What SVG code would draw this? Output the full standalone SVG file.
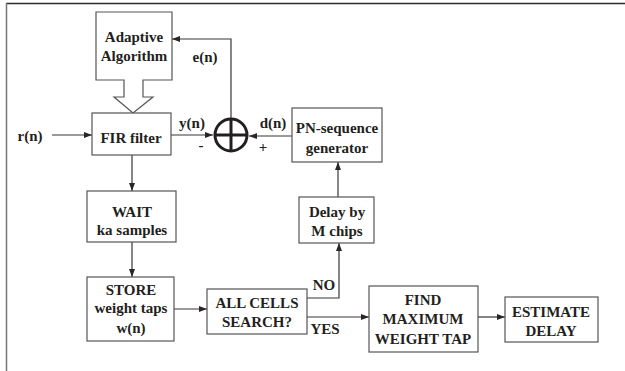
<svg xmlns="http://www.w3.org/2000/svg" width="625" height="371" viewBox="0 0 625 371">
<defs>
<marker id="ah" markerWidth="8" markerHeight="6" refX="8" refY="3" orient="auto" markerUnits="userSpaceOnUse">
<path d="M0,0 L8,3 L0,6 Z" fill="#2a2526"/>
</marker>
</defs>
<style>
.box{fill:#fff;stroke:#555;stroke-width:1.2}
.ln{fill:none;stroke:#3a3536;stroke-width:1.2}
.t{font-weight:bold;font-size:15px;fill:#231f20;text-anchor:middle}
</style>
<rect width="625" height="371" fill="#fff"/>
<g id="frame">
<line x1="6" y1="3.5" x2="625" y2="3.5" stroke="#2e2a2b" stroke-width="1.5"/>
<line x1="6.5" y1="3" x2="6.5" y2="371" stroke="#7a7579" stroke-width="1.5"/>
</g>
<g id="connectors">
<line class="ln" x1="52" y1="135" x2="92" y2="135" marker-end="url(#ah)"/>
<line class="ln" x1="171" y1="135" x2="213" y2="135" marker-end="url(#ah)"/>
<line class="ln" x1="292" y1="136" x2="249" y2="136" marker-end="url(#ah)"/>
<polyline class="ln" points="231,118 231,39 172,39" marker-end="url(#ah)"/>
<line class="ln" x1="132" y1="155" x2="132" y2="191" marker-end="url(#ah)"/>
<line class="ln" x1="132" y1="242" x2="132" y2="277" marker-end="url(#ah)"/>
<line class="ln" x1="174" y1="309" x2="207" y2="309" marker-end="url(#ah)"/>
<polyline class="ln" points="307,298 339,298 339,243" marker-end="url(#ah)"/>
<line class="ln" x1="338" y1="197" x2="338" y2="162" marker-end="url(#ah)"/>
<line class="ln" x1="307" y1="317" x2="369" y2="317" marker-end="url(#ah)"/>
<line class="ln" x1="478" y1="317" x2="505" y2="317" marker-end="url(#ah)"/>
</g>
<g font-family="'Liberation Serif', 'Times New Roman', 'DejaVu Serif', serif">
<g id="adaptive">
<path class="box" d="M96,12 H172 V80 H143 V97 H153 L133,113 L114,97 H124 V80 H96 Z"/>
<text class="t" x="134" y="42">Adaptive</text>
<text class="t" x="134" y="61">Algorithm</text>
</g>
<g id="fir">
<rect class="box" x="92" y="113" width="79" height="42"/>
<text class="t" x="131" y="143">FIR filter</text>
</g>
<g id="sum">
<circle cx="231" cy="135" r="16" fill="#fff" stroke="#231f20" stroke-width="3"/>
<line x1="231" y1="119" x2="231" y2="151" stroke="#231f20" stroke-width="3"/>
<line x1="215" y1="135" x2="247" y2="135" stroke="#231f20" stroke-width="3"/>
</g>
<g id="pn">
<rect class="box" x="292" y="108" width="90" height="54"/>
<text class="t" x="337" y="133">PN-sequence</text>
<text class="t" x="337" y="153">generator</text>
</g>
<g id="delay">
<rect class="box" x="299" y="197" width="75" height="46"/>
<text class="t" x="337" y="217">Delay by</text>
<text class="t" x="337" y="236">M chips</text>
</g>
<g id="wait">
<rect class="box" x="87" y="191" width="89" height="51"/>
<text class="t" x="132" y="217">WAIT</text>
<text class="t" x="132" y="235">ka samples</text>
</g>
<g id="store">
<rect class="box" x="87" y="277" width="87" height="64"/>
<text class="t" x="131" y="295">STORE</text>
<text class="t" x="131" y="313">weight taps</text>
<text class="t" x="131" y="333">w(n)</text>
</g>
<g id="allcells">
<rect class="box" x="207" y="289" width="100" height="45"/>
<text class="t" x="257" y="308">ALL CELLS</text>
<text class="t" x="257" y="327">SEARCH?</text>
</g>
<g id="find">
<rect class="box" x="369" y="286" width="109" height="66"/>
<text class="t" x="423" y="305">FIND</text>
<text class="t" x="423" y="324">MAXIMUM</text>
<text class="t" x="423" y="344">WEIGHT TAP</text>
</g>
<g id="estimate">
<rect class="box" x="505" y="297" width="93" height="45"/>
<text class="t" x="551" y="317">ESTIMATE</text>
<text class="t" x="551" y="336">DELAY</text>
</g>
<g id="labels">
<text class="t" x="30" y="141">r(n)</text>
<text class="t" x="192" y="128">y(n)</text>
<text class="t" x="201" y="150">-</text>
<text class="t" x="205" y="62">e(n)</text>
<text class="t" x="273" y="128">d(n)</text>
<text class="t" x="263" y="152">+</text>
<text class="t" x="324" y="290">NO</text>
<text class="t" x="325" y="334">YES</text>
</g>
</g>
</svg>
